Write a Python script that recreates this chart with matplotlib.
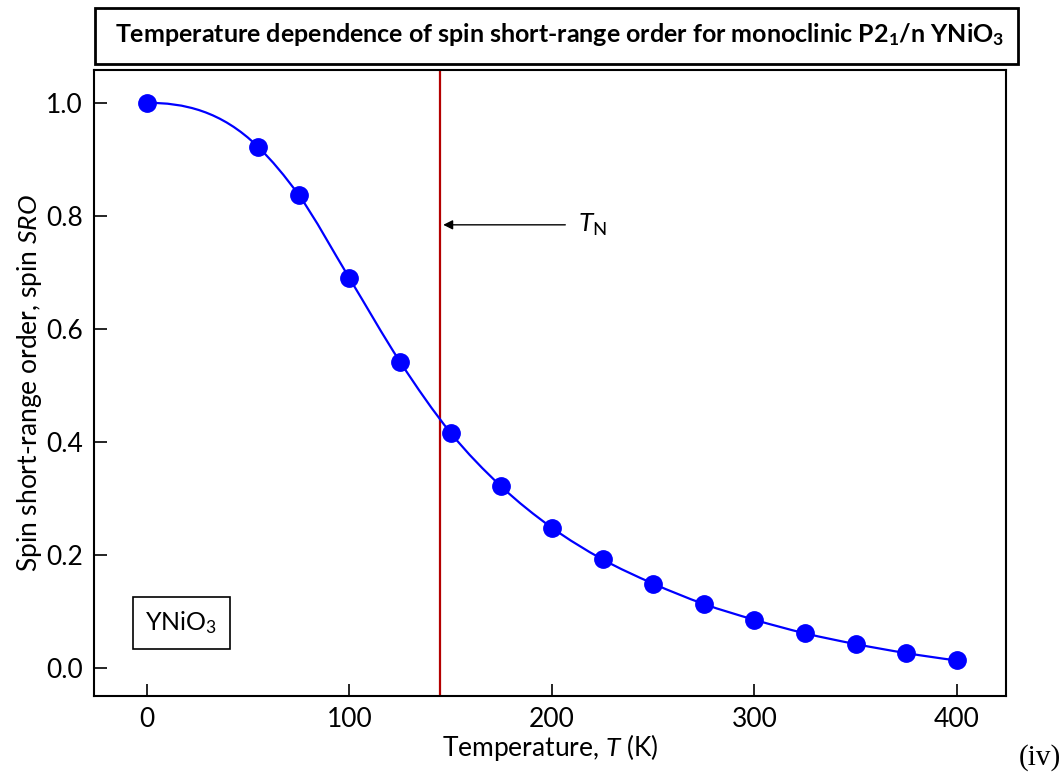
import numpy as np
import matplotlib
matplotlib.use("Agg")
import matplotlib.pyplot as plt
from matplotlib.path import Path
from matplotlib.patches import PathPatch, Rectangle

plt.rcParams['font.family'] = ['Lato', 'DejaVu Sans']
plt.rcParams['mathtext.fontset'] = 'custom'
plt.rcParams['mathtext.rm'] = 'Lato'
plt.rcParams['mathtext.it'] = 'Lato:italic'
plt.rcParams['mathtext.bf'] = 'Lato:bold'
plt.rcParams['mathtext.default'] = 'regular'

# data
temps = [0, 55, 75, 100, 125, 150, 175, 200, 225, 250, 275, 300, 325, 350, 375, 400]
sro = [1.0, 0.922, 0.837, 0.690, 0.542, 0.416, 0.321, 0.248, 0.192, 0.149,
       0.113, 0.085, 0.061, 0.042, 0.026, 0.013]
t_neel = 145
xticks = [0, 100, 200, 300, 400]
yticks = [0.0, 0.2, 0.4, 0.6, 0.8, 1.0]

fig = plt.figure(figsize=(10.62, 7.83), dpi=100)
ax = fig.add_axes([0.0885, 0.111, 0.8585, 0.7996])

# smooth curve through the points (cubic Hermite -> Bezier)
x = np.array(temps, float)
y = np.array(sro, float)
h = np.diff(x)
d = np.diff(y) / h
m = np.zeros_like(y)
m[1:-1] = (h[:-1] * d[1:] + h[1:] * d[:-1]) / (h[:-1] + h[1:])
m[0] = min(0.0, 2 * d[0] - m[1])
m[-1] = 2 * d[-1] - m[-2]
verts = [(x[0], y[0])]
codes = [Path.MOVETO]
for i in range(len(x) - 1):
    verts += [(x[i] + h[i] / 3, y[i] + m[i] * h[i] / 3),
              (x[i + 1] - h[i] / 3, y[i + 1] - m[i + 1] * h[i] / 3),
              (x[i + 1], y[i + 1])]
    codes += [Path.CURVE4] * 3
ax.add_patch(PathPatch(Path(verts, codes), fill=False, edgecolor='#0000ff', lw=1.6, zorder=2))

ax.plot(temps, sro, 'o', color='#0000ff', ms=12.5, zorder=3)
ax.axvline(t_neel, color='#b40000', lw=1.6, zorder=1)

ax.annotate('', xy=(t_neel, 0.784), xytext=(208, 0.784),
            arrowprops=dict(arrowstyle='-|>', color='black', lw=1.0, mutation_scale=14))
ax.text(213, 0.784, r'$\it{T}$$_{\rm N}$', fontsize=19, va='center', ha='left')

ax.text(17, 0.08, r'YNiO$_3$', fontsize=18, ha='center', va='center',
        bbox=dict(boxstyle='square,pad=0.5', fc='white', ec='black', lw=1.2))

ax.set_xlim(-26, 424)
ax.set_ylim(-0.05, 1.058)
ax.set_xticks(xticks)
ax.set_yticks(yticks)
ax.set_yticklabels([f'{v:.1f}' for v in yticks])
ax.tick_params(direction='in', length=9, width=1.2, labelsize=19, pad=8, colors='black')
for s in ax.spines.values():
    s.set_linewidth(1.5)

ax.set_xlabel(r'Temperature, $\it{T}$ (K)', fontsize=19)
ax.set_ylabel(r'Spin short-range order, spin $\it{SRO}$', fontsize=19)
ax.xaxis.set_label_coords(0.5, -0.057)
ax.yaxis.set_label_coords(-0.055, 0.5)

# title box
fig.patches.append(Rectangle((95 / 1062, 1 - 64 / 783), 923 / 1062, 56 / 783,
                             transform=fig.transFigure, fill=False, ec='black', lw=2))
fig.text(560 / 1062, 1 - 35 / 783,
         r'Temperature dependence of spin short-range order for monoclinic P2$_1$/n YNiO$_3$',
         fontsize=18, fontweight='bold', ha='center', va='center')

fig.text(1040 / 1062, 1 - 758 / 783, '(iv)', fontsize=21, family='Liberation Serif',
         ha='center', va='center')

fig.savefig('out.png', dpi=100)
